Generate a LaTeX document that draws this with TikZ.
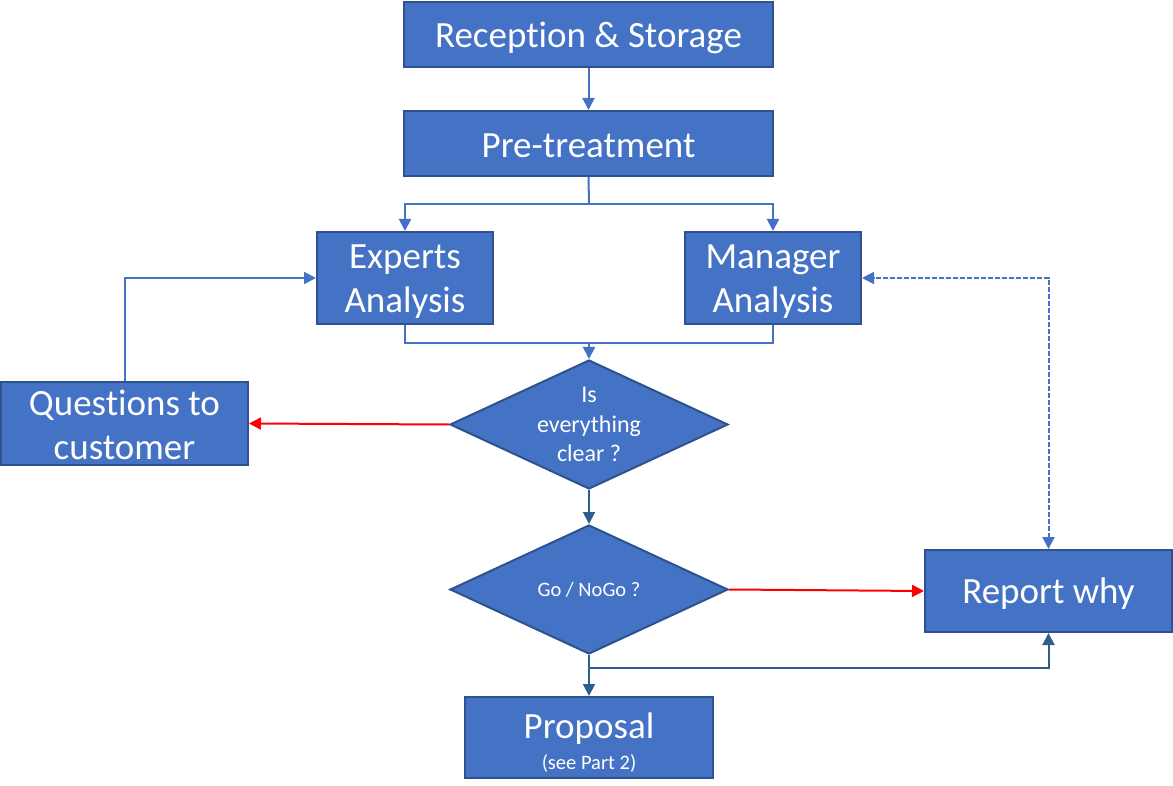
\documentclass[tikz,border=0pt]{standalone}
\usepackage{fontspec}
\setmainfont{Carlito}[Ligatures=NoCommon]
\usetikzlibrary{shapes.geometric,arrows.meta}
\definecolor{boxfill}{HTML}{4472C4}
\definecolor{boxedge}{HTML}{2F528F}
\definecolor{linkA}{HTML}{4472C4}
\definecolor{linkB}{HTML}{2E5D8E}
\definecolor{redlink}{HTML}{FF0000}
\begin{document}
\begin{tikzpicture}[x=1pt,y=-1pt,
  box/.style={draw=boxedge,line width=2pt,fill=boxfill,inner sep=0pt},
  boxtext/.style={text=white,inner sep=0pt,align=center,font=\fontsize{37}{44}\selectfont},
  dia/.style={diamond,draw=boxedge,line width=2pt,fill=boxfill,text=white,inner sep=0pt,align=center,aspect=2.15},
  linkup/.style={draw=linkA,line width=2pt,-{Triangle[length=12pt,width=12pt]}},
  linklow/.style={draw=linkB,line width=2pt,-{Triangle[length=12pt,width=12pt]}},
  redarrow/.style={draw=redlink,line width=2pt,-{Triangle[length=12pt,width=12pt]}},
  dashlink/.style={draw=linkA,line width=2pt,dash pattern=on 5pt off 2pt,{Triangle[length=12pt,width=12pt]}-{Triangle[length=12pt,width=12pt]}}]
\useasboundingbox (0,0) rectangle (1173,786);
\node[box,minimum width=369pt,minimum height=65pt,label={[boxtext,yshift=-3pt]center:Reception \& Storage}] (rec) at (588.5,34.5) {};
\node[box,minimum width=369pt,minimum height=65pt,label={[boxtext,yshift=-2pt]center:Pre-treatment}] (pre) at (588.5,143.5) {};
\node[box,minimum width=176pt,minimum height=92pt,label={[boxtext,yshift=-4pt]center:Experts\\Analysis}] (exp) at (405,278) {};
\node[box,minimum width=176pt,minimum height=92pt,label={[boxtext,yshift=-4pt]center:Manager\\Analysis}] (man) at (773,278) {};
\node[box,minimum width=247pt,minimum height=83pt,label={[boxtext,yshift=-1pt]center:Questions to\\customer}] (que) at (124.5,423.5) {};
\node[dia,minimum width=278pt,minimum height=129pt,font=\fontsize{24}{29.5}\selectfont] (d1) at (589,424.5) {Is\\everything\\clear ?};
\node[dia,minimum width=278pt,minimum height=129pt,font=\fontsize{20.5}{24}\selectfont] (d2) at (589,589.5) {Go / NoGo ?};
\node[box,minimum width=247pt,minimum height=82pt,label={[boxtext,yshift=-3pt]center:Report why}] (rep) at (1048.5,591) {};
\node[box,minimum width=248pt,minimum height=81pt,label={[boxtext,font=\fontsize{37}{36}\selectfont,yshift=-5.5pt]center:Proposal\\[-5pt]{\fontsize{20.5}{24}\selectfont (see Part 2)}}] (pro) at (589,737.5) {};
\coordinate (split) at (589,204);
\coordinate (join) at (589,343);
\coordinate (fork) at (589,668);
\draw[linkup] (rec) -- (pre);
\draw[draw=linkA,line width=2pt] (pre.south) -- (split);
\draw[linkup] (split) -| (exp.north);
\draw[linkup] (split) -| (man.north);
\draw[draw=linkA,line width=2pt] (exp.south) |- (join) -| (man.south);
\draw[linkup] (join) -- (d1.north);
\draw[redarrow] (d1.west) -- (que.east);
\draw[linkup] (que.north) |- (exp.west);
\draw[linklow] (d1.south) -- (d2.north);
\draw[redarrow] (d2.east) -- (rep.west);
\draw[linklow] (d2.south) -- (pro.north);
\draw[linklow] (fork) -| (rep.south);
\draw[dashlink] (rep.north) |- (man.east);
\end{tikzpicture}
\end{document}
